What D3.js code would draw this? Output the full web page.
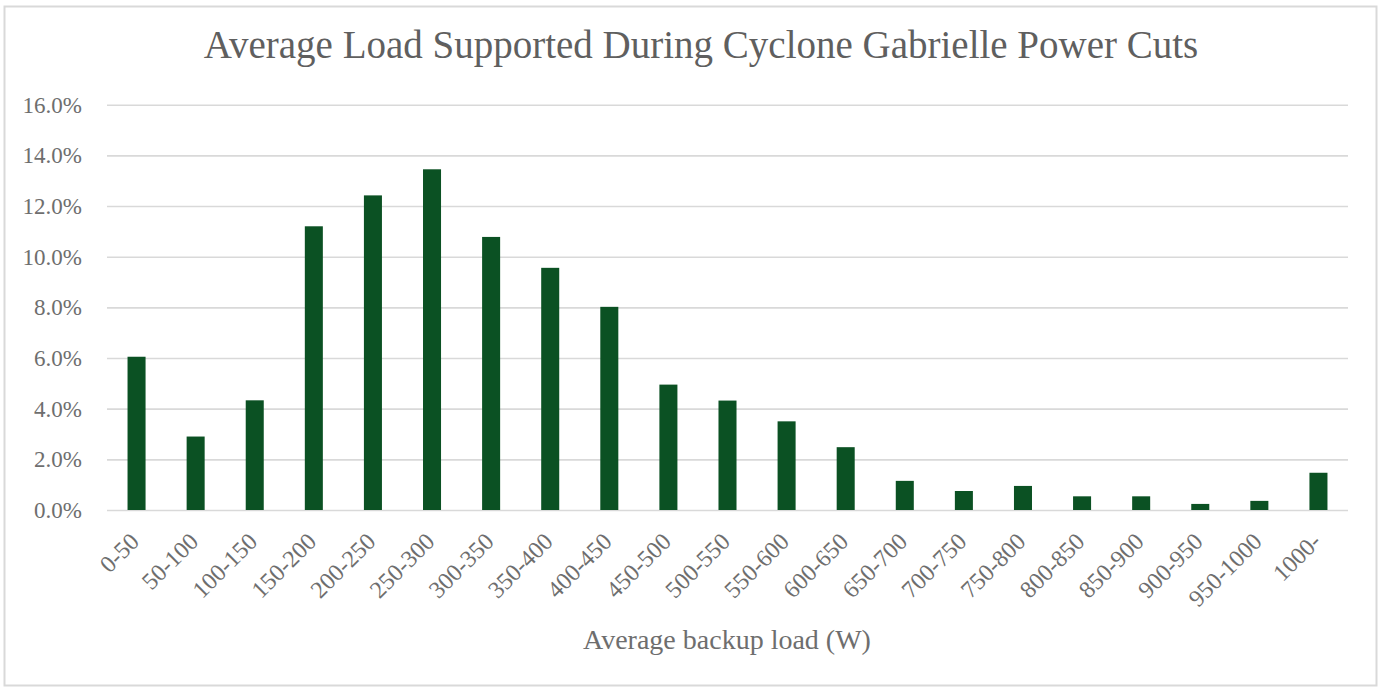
<!DOCTYPE html>
<html>
<head>
<meta charset="utf-8">
<script src="https://cdn.jsdelivr.net/npm/d3@7"></script>
<style>
  html, body { margin: 0; padding: 0; background: #ffffff; }
  svg { display: block; }
  text { font-family: "Liberation Serif", "DejaVu Serif", serif; }
</style>
</head>
<body>
<svg id="chart" width="1383" height="688"></svg>
<script>
// Load ranges (W) and share of time at each average load
const categories = ["0-50", "50-100", "100-150", "150-200", "200-250", "250-300",
  "300-350", "350-400", "400-450", "450-500", "500-550", "550-600", "600-650",
  "650-700", "700-750", "750-800", "800-850", "850-900", "900-950", "950-1000", "1000-"];
const shares = [6.05, 2.9, 4.33, 11.2, 12.42, 13.45, 10.78, 9.56, 8.02, 4.95, 4.32,
  3.5, 2.48, 1.15, 0.75, 0.95, 0.54, 0.54, 0.24, 0.36, 1.47];
const yTicks = [0, 2, 4, 6, 8, 10, 12, 14, 16];

const titleText = "Average Load Supported During Cyclone Gabrielle Power Cuts";
const xTitleText = "Average backup load (W)";

const svg = d3.select("#chart");
const plot = { left: 107, right: 1348, top: 104.7, bottom: 510 };

// Chart frame
svg.append("rect")
  .attr("x", 4.5).attr("y", 6.5)
  .attr("width", 1372).attr("height", 679)
  .attr("fill", "#ffffff")
  .attr("stroke", "#d9d9d9").attr("stroke-width", 2);

const x = d3.scaleBand()
  .domain(categories)
  .range([plot.left, plot.right])
  .paddingInner(0.695)
  .paddingOuter(0.3475);

const y = d3.scaleLinear()
  .domain([0, 16])
  .range([plot.bottom, plot.top]);

// Horizontal gridlines and y labels
const yAxis = d3.axisLeft(y)
  .tickValues(yTicks)
  .tickSize(-(plot.right - plot.left))
  .tickPadding(25)
  .tickFormat(d => d.toFixed(1) + "%");

const gy = svg.append("g")
  .attr("transform", `translate(${plot.left},0)`)
  .call(yAxis);
gy.select(".domain").remove();
gy.selectAll(".tick line")
  .attr("stroke", "#d9d9d9")
  .attr("stroke-width", 1.6);
gy.selectAll(".tick text")
  .attr("fill", "#6e6e6e")
  .attr("font-size", 23)
  .attr("font-family", "Liberation Serif, serif")
  .attr("dy", "0.32em");

// Bars
svg.append("g")
  .selectAll("rect")
  .data(categories.map((c, i) => ({ c, v: shares[i] })))
  .join("rect")
  .attr("x", d => x(d.c))
  .attr("width", x.bandwidth())
  .attr("y", d => y(d.v))
  .attr("height", d => y(0) - y(d.v))
  .attr("fill", "#0b5123");

// Category axis with rotated labels
const xAxis = d3.axisBottom(x).tickSize(0).tickPadding(0);
const gx = svg.append("g")
  .attr("transform", `translate(0,${plot.bottom})`)
  .call(xAxis);
gx.select(".domain").remove();
gx.selectAll(".tick text")
  .attr("fill", "#6e6e6e")
  .attr("font-size", 24)
  .attr("font-family", "Liberation Serif, serif")
  .attr("text-anchor", "end")
  .attr("dy", 0)
  .attr("y", 0)
  .attr("transform", "translate(4,33) rotate(-45)");

// Titles
svg.append("text")
  .attr("x", 701).attr("y", 58)
  .attr("text-anchor", "middle")
  .attr("fill", "#5f5f5f")
  .attr("font-size", 39)
  .text(titleText);

svg.append("text")
  .attr("x", 727).attr("y", 649)
  .attr("text-anchor", "middle")
  .attr("fill", "#6e6e6e")
  .attr("font-size", 28)
  .text(xTitleText);
</script>
</body>
</html>
